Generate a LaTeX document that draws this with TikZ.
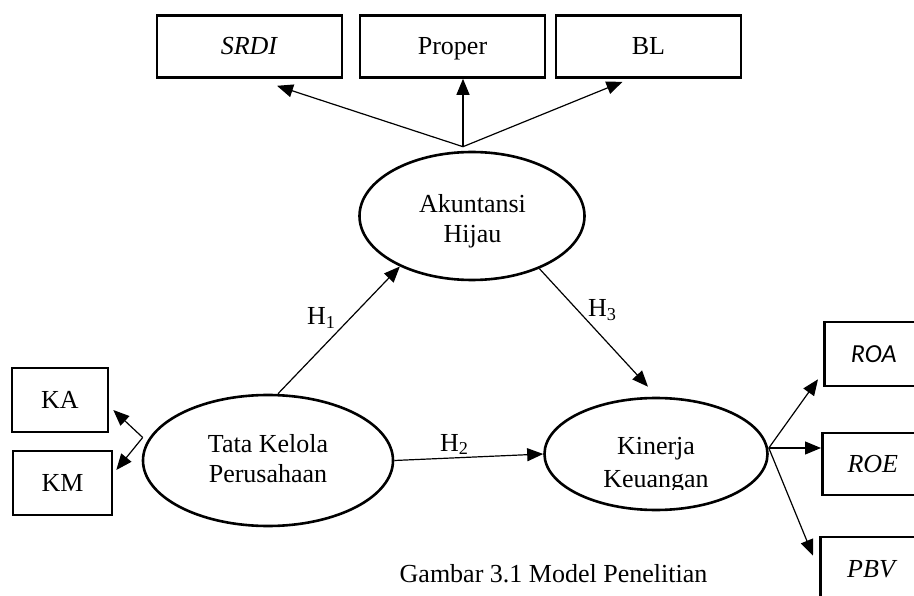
\documentclass[tikz,border=0pt]{standalone}
\usepackage{fontspec}
\setmainfont{Liberation Serif}
\newfontfamily\carlitofont{Carlito}
\usetikzlibrary{shapes.geometric,arrows.meta}
\begin{document}
\begin{tikzpicture}[x=1pt,y=-1pt,
  every node/.style={font=\fontsize{26}{30}\selectfont},
  box/.style={draw,line width=2.6pt,rectangle,inner sep=0pt,minimum height=62pt,
              text height=17pt,text depth=0pt},
  latent/.style={draw,line width=2.6pt,ellipse,inner sep=0pt,align=center},
  ltext/.style={inner sep=0pt,align=center},
  arr/.style={line width=1.2pt,-{Triangle[length=16pt,width=13pt]}},
  hlab/.style={anchor=base west,inner sep=0pt}
]
\useasboundingbox (0,0) rectangle (914,596);
\clip (0,0) rectangle (914,596);
% top indicator boxes
\node[box,minimum width=185pt] (srdi) at (249.5,46.5) {\textit{SRDI}};
\node[box,minimum width=185pt] (proper) at (452.5,46.5) {Proper};
\node[box,minimum width=185pt] (bl) at (648.5,46.5) {BL};
% left boxes
\node[box,minimum width=96pt,minimum height=64pt] (ka) at (60,400) {KA};
\node[box,minimum width=99pt,minimum height=64pt] (km) at (62.5,483) {KM};
% right boxes
\node[box,minimum width=120pt,minimum height=64pt,anchor=west] (roa) at (823,354) {{\carlitofont\itshape ROA}\hspace*{21pt}};
\node[box,minimum width=120pt,minimum height=62pt,anchor=west] (roe) at (821,464) {\textit{ROE}\hspace*{19pt}};
\node[box,minimum width=120pt,minimum height=64pt,anchor=west] (pbv) at (819,569) {\textit{PBV}\hspace*{16pt}};
% latent variables
\node[latent,minimum width=225pt,minimum height=128pt] (akun) at (472,216) {};
\node[ltext,font=\fontsize{26}{30}\selectfont] (akuntxt) at (472.5,221) {Akuntansi\\Hijau};
\node[latent,minimum width=250pt,minimum height=131pt] (tata) at (268,460.5) {};
\node[ltext,font=\fontsize{26}{30}\selectfont] (tatatxt) at (268,459) {Tata Kelola\\Perusahaan};
\node[latent,minimum width=223pt,minimum height=112pt] (kin) at (656,454) {};
\begin{scope}
\clip (560,410) rectangle (760,489);
\node[ltext,font=\fontsize{26}{33}\selectfont] (kintxt) at (656,465.5) {Kinerja\\Keuangan};
\end{scope}
% fan points
\coordinate (fantop) at ([xshift=-9pt,yshift=4pt]akun.north);
\coordinate (fanleft) at ([xshift=1pt,yshift=23pt]tata.west);
\coordinate (fanright) at ([xshift=0pt,yshift=6pt]kin.east);
% top arrows
\draw[arr] (fantop) -- ([xshift=27.5pt,yshift=-7pt]srdi.south);
\draw[arr] (fantop) -- (proper.south -| fantop);
\draw[arr] (fantop) -- ([xshift=-26pt,yshift=-3pt]bl.south);
% left arrows
\draw[arr] (fanleft) -- ([xshift=4pt,yshift=-10pt]ka.east);
\draw[arr] (fanleft) -- ([xshift=3pt,yshift=13pt]km.east);
% right arrows
\draw[arr] (fanright) -- ([xshift=-5pt,yshift=8pt]roa.south west);
\draw[arr] (fanright) -- (roe.west |- fanright);
\draw[arr] (fanright) -- ([xshift=-6pt,yshift=-20pt]pbv.north west);
% hypotheses
\draw[arr] ([xshift=10pt]tata.north) -- (akun.215);
\draw[arr] (tata.east) -- (kin.west);
\draw[arr] (akun.-38) -- ([xshift=-8pt,yshift=10pt]kin.north);
\node[hlab] (h1) at (307,325) {H\textsubscript{1}};
\node[hlab] (h2) at (440,451) {H\textsubscript{2}};
\node[hlab] (h3) at (588,317) {H\textsubscript{3}};
% caption
\node[anchor=base,inner sep=0pt] (cap) at (553.5,582) {Gambar 3.1 Model Penelitian};
\end{tikzpicture}
\end{document}
